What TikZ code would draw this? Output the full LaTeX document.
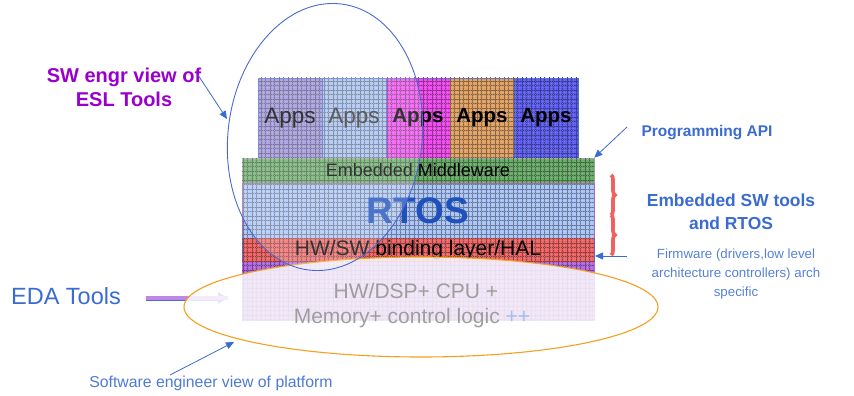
\documentclass[tikz,border=0pt]{standalone}
\usepackage{fontspec}
\setmainfont{Liberation Sans}
\usetikzlibrary{arrows.meta,patterns.meta,decorations.pathreplacing}

\definecolor{appA}{HTML}{988DDA}
\definecolor{appB}{HTML}{A2BEF0}
\definecolor{appC}{HTML}{F046F0}
\definecolor{appD}{HTML}{E0A062}
\definecolor{appE}{HTML}{5C5CF2}
\definecolor{mwGreen}{HTML}{66AA66}
\definecolor{rtosBlue}{HTML}{A8C4F8}
\definecolor{halRed}{HTML}{F06262}
\definecolor{hwPurple}{HTML}{B266E2}
\definecolor{txtBlue}{HTML}{3A6BD0}
\definecolor{rtosText}{HTML}{1F50BC}
\definecolor{lblPurple}{HTML}{9900CC}
\definecolor{ringOrange}{HTML}{F5A020}
\definecolor{edgeBlue}{HTML}{4A6AD0}

\newcommand\fsz[1]{\fontsize{#1}{#1}\selectfont}

\tikzset{
  band/.style 2 args={rectangle, inner sep=0pt, fill=#1, draw=#2, line width=0.6pt,
    postaction={pattern={Hatch[angle=0,distance=4.5pt,line width=0.5pt]},
                pattern color=#1!60!black, fill opacity=0.25},
    postaction={pattern={Dots[distance=2.25pt,radius=0.35pt]},
                pattern color=white, fill opacity=0.5}},
  appbox/.style={band={#1}{edgeBlue}, minimum width=64pt, minimum height=80pt},
  layerbox/.style 2 args={band={#1}{#2}, minimum width=352pt},
  pointer/.style={draw=txtBlue, line width=0.8pt, -{Triangle[width=7pt,length=8pt]}},
  bluetxt/.style={text=txtBlue, align=center, inner sep=0pt},
  ribbon/.style={halRed, line width=3.6pt, decorate, decoration={brace, amplitude=4pt}},
}

\begin{document}
\begin{tikzpicture}[x=1pt,y=-1pt]
\useasboundingbox (0,0) rectangle (854,396);

% application tiles
\node[appbox=appA] (a1) at (290,118) {\fsz{22.5}\color{black}Apps};
\node[appbox=appB] (a2) at (354,118) {\fsz{22.5}\color{black!80}Apps};
\node[appbox=appC] (a3) at (418,118) {\fsz{20.5}\bfseries Apps};
\node[appbox=appD] (a4) at (482,118) {\fsz{20.5}\bfseries Apps};
\node[appbox=appE] (a5) at (546,118) {\fsz{20.5}\bfseries Apps};

% software stack layers
\node[layerbox={mwGreen}{black!35}, minimum height=25pt] (mw) at (418,170.5)
  {\fsz{18}Embedded Middleware};
\node[layerbox={rtosBlue}{violet!60}, minimum height=55pt] (rtos) at (418,210.5)
  {\fsz{37}\bfseries\color{rtosText}RTOS};
\node[layerbox={halRed}{edgeBlue}, minimum height=24pt] (hal) at (418,250)
  {\fsz{21}HW/SW binding layer/HAL};
\node[layerbox={hwPurple}{hwPurple}, minimum height=58pt] (hw) at (418,291) {};

% EDA tools arrow (passes under the platform ring)
\coordinate (edaStart) at (146,298);
\coordinate (edaTip) at (228,298);
\draw[line width=5pt, draw=edgeBlue, -{Triangle[width=11pt,length=10pt]}] (edaStart) -- (edaTip);
\draw[line width=3.4pt, draw=hwPurple!80!white] (edaStart) -- (edaTip);

% platform ring (hardware view)
\draw[ringOrange, line width=1.1pt, fill=white, fill opacity=0.84]
  (421,307) ellipse [x radius=237pt, y radius=50pt];
\node[text=black!38, inner sep=0pt] (hwt1) at (416,291) {\fsz{21}HW/DSP+ CPU +};
\node[text=black!38, inner sep=0pt] (hwt2) at (412,318)
  {\fsz{21}Memory+ control logic {\color{txtBlue!45}++}};

% software engineer's view of the ESL tools
\draw[edgeBlue, line width=0.9pt, fill=white, fill opacity=0.2,
      rotate around={-7:(325,137)}]
  (325,137) ellipse [x radius=97pt, y radius=134pt];

% brace beside the embedded SW layers
\draw[ribbon] (611,175) -- (611,215);
\draw[ribbon] (611,215) -- (611,255);

% labels
\node[text=lblPurple, align=center, inner sep=0pt, font=\bfseries\fsz{20}] (esl) at (124,87)
  {SW engr view of\\[4pt]ESL Tools};
\node[bluetxt, font=\bfseries\fsz{15.5}] (api) at (707,133) {Programming API};
\node[bluetxt, font=\bfseries\fsz{17.4}] (emb) at (731,212) {Embedded SW tools\\[6pt]and RTOS};
\node[bluetxt, text=txtBlue!85!white, font=\fsz{13.3}] (fw) at (736,274)
  {Firmware (drivers,low level\\[5.5pt]architecture controllers) arch\\[5.5pt]specific};
\node[bluetxt, font=\fsz{23.5}] (eda) at (66,296) {EDA Tools};
\node[bluetxt, text=txtBlue!90!white, font=\fsz{15.8}] (swv) at (211,383)
  {Software engineer view of platform};

% pointers
\coordinate (eslFrom) at (198,75);
\coordinate (eslTip) at (227,119);
\draw[pointer] (eslFrom) -- (eslTip);
\coordinate (apiFrom) at (627,127);
\draw[pointer] (apiFrom) -- (mw.north east);
\coordinate (fwFrom) at (627,256);
\coordinate (fwTip) at (595,256);
\draw[pointer] (fwFrom) -- (fwTip);
\coordinate (swvFrom) at (170,375);
\coordinate (swvTip) at (234,342);
\draw[pointer] (swvFrom) -- (swvTip);
\end{tikzpicture}
\end{document}
